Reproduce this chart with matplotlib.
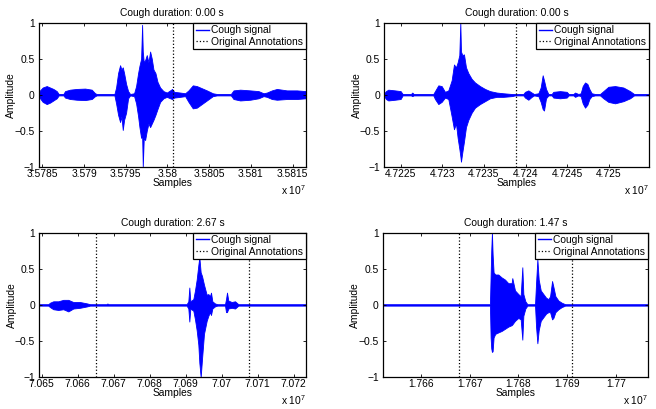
import numpy as np
import matplotlib.pyplot as plt
from matplotlib.lines import Line2D

plt.rcParams['font.family'] = ['Liberation Sans', 'DejaVu Sans']
plt.rcParams['font.size'] = 7.4
plt.rcParams['mathtext.default'] = 'regular'

titles = ["Cough duration: 0.00 s", "Cough duration: 0.00 s",
          "Cough duration: 2.67 s", "Cough duration: 1.47 s"]

# Signal envelopes: offset (samples) from window start, upper, lower amplitude

# top left
tl_start, tl_end = 35784600, 35816560
tl_t = [0, 120, 440, 920, 1320, 1720, 2120, 2360, 2920, 3120, 3720, 4520, 5520, 6320, 6720, 6920,
        9040, 9240, 9480, 9720, 9880, 10040, 10200, 10440, 10680, 10920, 11400, 11640, 11880, 12040,
        12240, 12360, 12440, 12560, 12720, 12920, 13120, 13320, 13520, 13720, 13960, 14200, 14520,
        14920, 15320, 15720, 15960, 16200, 16920, 17520, 17920, 18440, 18920, 19520, 20120, 20840,
        21320, 23000, 23320, 24120, 25320, 26320, 26920, 27320, 27920, 28520, 29720, 30920, 31960]
tl_hi = [.02, .06, .10, .12, .10, .08, .05, .01, .01, .05, .07, .08, .085, .07, .02, .01,
         .01, .10, .30, .41, .35, .38, .30, .15, .05, .01, .02, .12, .30, .40,
         .50, .97, .60, .45, .48, .55, .45, .60, .50, .35, .30, .18, .10,
         .05, .03, .06, .08, .04, .03, .02, .06, .13, .12, .09, .06, .02,
         .01, .01, .06, .07, .06, .05, .02, .03, .06, .08, .06, .06, .05]
tl_lo = [-.02, -.05, -.10, -.13, -.11, -.08, -.05, -.01, -.01, -.04, -.06, -.07, -.075, -.06, -.02, -.01,
         -.01, -.12, -.28, -.38, -.30, -.49, -.35, -.25, -.05, -.01, -.02, -.12, -.30, -.45,
         -.60, -.55, -1.00, -.60, -.63, -.50, -.40, -.45, -.40, -.35, -.28, -.20, -.10,
         -.05, -.03, -.05, -.06, -.04, -.03, -.02, -.10, -.19, -.18, -.13, -.08, -.02,
         -.01, -.01, -.06, -.08, -.07, -.05, -.02, -.03, -.06, -.07, -.06, -.06, -.05]
tl_annot = [35800650]
tl_ticks = [35785000, 35790000, 35795000, 35800000, 35805000, 35810000, 35815000]
tl_labels = ['3.5785', '3.579', '3.5795', '3.58', '3.5805', '3.581', '3.5815']

# top right
tr_start, tr_end = 47223040, 47254760
tr_t = [0, 200, 480, 1280, 1960, 2200, 3200, 3360, 3520, 5880, 6080, 6480, 6880, 7280, 7680, 8080,
        8360, 8600, 8800, 9000, 9120, 9200, 9360, 9560, 9800, 10080, 10480, 10880, 11480, 12080,
        12680, 13480, 14280, 15280, 15680, 16680, 16880, 17280, 17680, 17960, 18480, 18760, 19000,
        19160, 19400, 19680, 20080, 20280, 21080, 21880, 22120, 22680, 22880, 23280, 23560, 23800,
        24080, 24360, 24600, 24880, 25280, 25880, 26280, 26880, 27680, 28680, 29480, 29960, 31720]
tr_hi = [.02, .05, .07, .06, .05, .01, .01, .03, .01, .01, .05, .13, .12, .04, .06, .20,
         .42, .38, .45, .55, 1.00, .60, .55, .56, .38, .30, .22, .17, .12, .08,
         .05, .03, .02, .01, .01, .01, .04, .06, .03, .01, .02, .10, .27,
         .20, .08, .01, .01, .04, .05, .04, .01, .01, .03, .01, .02, .12,
         .17, .15, .08, .02, .01, .01, .05, .11, .12, .10, .05, .01, .01]
tr_lo = [-.02, -.06, -.08, -.07, -.06, -.01, -.01, -.02, -.01, -.01, -.06, -.13, -.10, -.04, -.06, -.30,
         -.48, -.40, -.60, -.75, -.85, -.93, -.80, -.65, -.45, -.35, -.25, -.18, -.13, -.09,
         -.05, -.03, -.03, -.02, -.01, -.01, -.04, -.07, -.03, -.01, -.02, -.10, -.20,
         -.22, -.05, -.01, -.01, -.04, -.05, -.04, -.01, -.01, -.03, -.01, -.02, -.12,
         -.18, -.14, -.06, -.02, -.01, -.01, -.05, -.10, -.12, -.09, -.05, -.01, -.01]
tr_annot = [47238840]
tr_ticks = [47225000, 47230000, 47235000, 47240000, 47245000, 47250000]
tr_labels = ['4.7225', '4.723', '4.7235', '4.724', '4.7245', '4.725']

# bottom left
bl_start, bl_end = 70649340, 70723420
bl_t = [0, 2500, 2960, 3890, 5280, 6670, 8060, 9440, 11300, 13330, 14080, 18700, 18890, 19260,
        40930, 41390, 41670, 41950, 42780, 43240, 43710, 44170, 44450, 44820, 45190, 45740, 46490,
        46950, 47410, 47690, 48060, 48800, 49450, 51580, 51860, 52130, 52500, 53430, 54360, 54820,
        55280, 74080]
bl_hi = [.01, .01, .03, .05, .05, .07, .07, .04, .04, .02, .01, .01, .02, .01,
         .01, .05, .24, .05, .08, .20, .35, .55, .66, .45, .40, .28, .14,
         .15, .12, .17, .05, .02, .01, .01, .08, .17, .06, .04, .05, .03,
         .01, .01]
bl_lo = [-.01, -.01, -.03, -.06, -.07, -.06, -.09, -.05, -.04, -.02, -.01, -.01, -.01, -.01,
         -.01, -.05, -.23, -.05, -.08, -.20, -.35, -.55, -.80, -1.00, -.75, -.40, -.22,
         -.15, -.10, -.14, -.05, -.02, -.01, -.01, -.10, -.10, -.05, -.04, -.05, -.03,
         -.01, -.01]
bl_annot = [70665170, 70707590]
bl_ticks = [70650000, 70660000, 70670000, 70680000, 70690000, 70700000, 70710000, 70720000]
bl_labels = ['7.065', '7.066', '7.067', '7.068', '7.069', '7.07', '7.071', '7.072']

# bottom right
br_start, br_end = 17652270, 17706510
br_t = [0, 21890, 22030, 22160, 22300, 22440, 22640, 22980, 23600, 24280, 24970, 25650, 26330,
        26470, 27020, 27700, 28180, 28520, 28730, 29140, 29550, 31120, 31330, 31600, 31870, 32290,
        32830, 33380, 33860, 34200, 34610, 34880, 35290, 35910, 36590, 37280, 54240]
br_hi = [.01, .01, .40, .75, 1.00, .70, .45, .42, .42, .38, .35, .30, .30,
         .37, .20, .15, .12, .52, .15, .05, .01, .01, .30, .63, .35, .20,
         .15, .10, .08, .12, .33, .25, .12, .06, .03, .01, .01]
br_lo = [-.01, -.01, -.45, -.60, -.65, -.64, -.45, -.40, -.38, -.36, -.33, -.30, -.28,
         -.27, -.22, -.18, -.20, -.48, -.15, -.05, -.01, -.01, -.30, -.53, -.35, -.22,
         -.17, -.12, -.10, -.10, -.20, -.18, -.10, -.06, -.03, -.01, -.01]
br_annot = [17667930, 17691050]
br_ticks = [17660000, 17670000, 17680000, 17690000, 17700000]
br_labels = ['1.766', '1.767', '1.768', '1.769', '1.77']

panels = [
    (tl_start, tl_end, tl_t, tl_hi, tl_lo, tl_annot, tl_ticks, tl_labels),
    (tr_start, tr_end, tr_t, tr_hi, tr_lo, tr_annot, tr_ticks, tr_labels),
    (bl_start, bl_end, bl_t, bl_hi, bl_lo, bl_annot, bl_ticks, bl_labels),
    (br_start, br_end, br_t, br_hi, br_lo, br_annot, br_ticks, br_labels),
]
boxes = [[0.0595, 0.5924, 0.4063, 0.3521],
         [0.5858, 0.5924, 0.4031, 0.3521],
         [0.0599, 0.0775, 0.4066, 0.3540],
         [0.5838, 0.0775, 0.4040, 0.3540]]

fig = plt.figure(figsize=(6.56, 4.09), dpi=100)

for i, (start, end, t, hi, lo, annot, ticks, labels) in enumerate(panels):
    ax = fig.add_axes(boxes[i])
    x = start + np.array(t)
    ax.fill_between(x, lo, hi, color='blue', edgecolor='blue', linewidth=0.6)
    for a in annot:
        ax.axvline(a, color='k', linestyle=':', linewidth=0.9)
    ax.set_xlim(start, end)
    ax.set_ylim(-1, 1)
    ax.set_xticks(ticks)
    ax.set_xticklabels(labels)
    ax.set_yticks([-1, -0.5, 0, 0.5, 1])
    ax.set_yticklabels(['\u22121', '\u22120.5', '0', '0.5', '1'])
    ax.tick_params(direction='in', length=2.5, width=0.6, top=True, right=True)
    ax.tick_params(axis='x', pad=1.5)
    ax.tick_params(axis='y', pad=3)
    for s in ax.spines.values():
        s.set_linewidth(0.9)
    ax.set_title(titles[i], fontsize=7.4, pad=5)
    ax.set_xlabel("Samples")
    ax.xaxis.set_label_coords(0.5, -0.075)
    ax.set_ylabel("Amplitude")
    ax.yaxis.set_label_coords(-0.085, 0.5)
    ax.text(1.0, -0.16, r'x 10$^{7}$', ha='right', va='center', transform=ax.transAxes)
    handles = [Line2D([], [], color='blue', linewidth=1),
               Line2D([], [], color='k', linestyle=':', linewidth=0.9)]
    leg = ax.legend(handles, ['Cough signal', 'Original Annotations'], loc='upper right',
                    borderaxespad=0, fancybox=False, edgecolor='k', framealpha=1,
                    handlelength=1.3, handletextpad=0.2, borderpad=0.25, labelspacing=0.15)
    leg.get_frame().set_linewidth(0.9)

plt.savefig('out.png', dpi=100)
